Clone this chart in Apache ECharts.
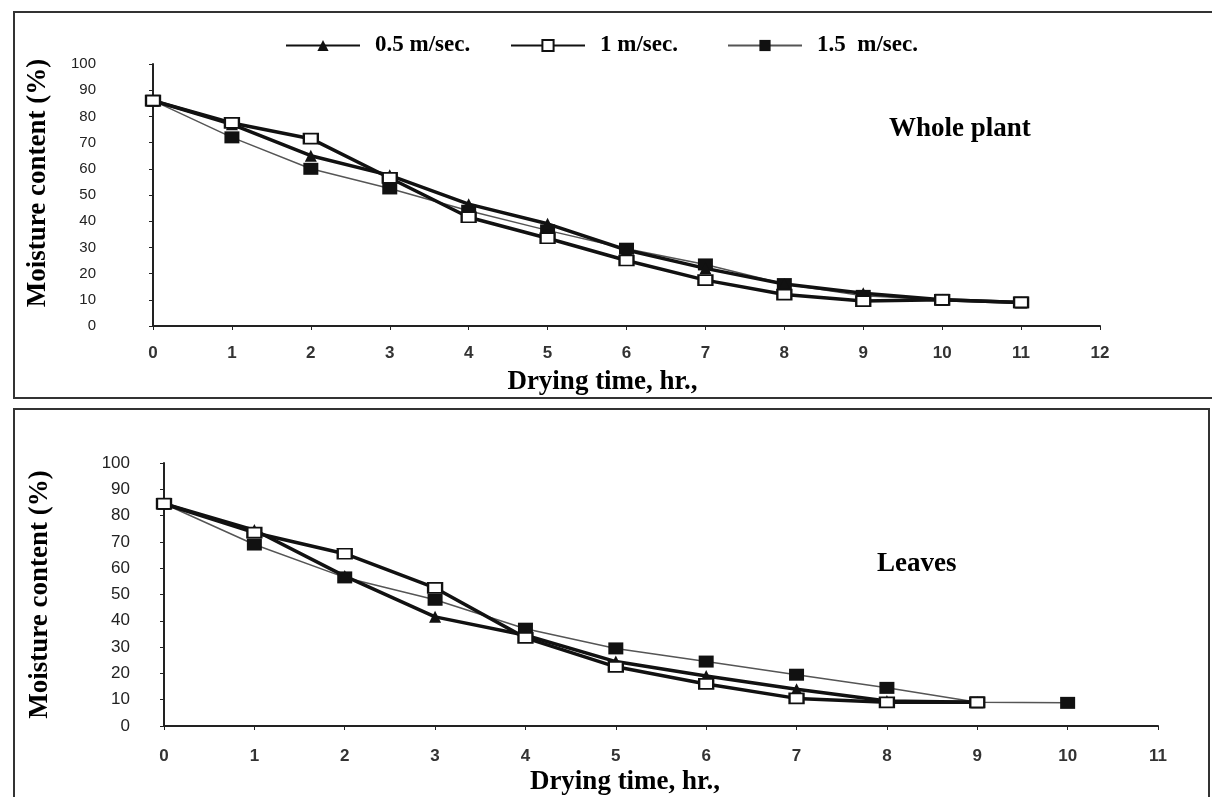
<!DOCTYPE html>
<html>
<head>
<meta charset="utf-8">
<title>Drying curves</title>
<script src="https://cdn.jsdelivr.net/npm/echarts@6/dist/echarts.min.js"></script>
<style>
  html, body { margin: 0; padding: 0; background: #fff; }
  #chart { width: 1212px; height: 797px; }
</style>
</head>
<body>
<div id="chart"></div>
<script>
// 数据
var speeds = ["0.5 m/sec.", "1 m/sec.", "1.5  m/sec."];
var yTicks = [0, 10, 20, 30, 40, 50, 60, 70, 80, 90, 100];

// whole plant, hours 0..11
var plantHours = [0, 1, 2, 3, 4, 5, 6, 7, 8, 9, 10, 11];
var plant05 = [86, 77, 65, 57.5, 46.5, 39, 29, 22, 16, 12.5, 10, 9];
var plant10 = [86, 77.5, 71.5, 56.5, 41.5, 33.5, 25, 17.5, 12, 9.5, 10, 9];
var plant15 = [86, 72, 60, 52.5, 44, 36.5, 29.5, 23.5, 16, 11.5, 10, 9];

// leaves, hours 0..10
var leafHours = [0, 1, 2, 3, 4, 5, 6, 7, 8, 9, 10];
var leaf05 = [84.5, 74.5, 57, 41.5, 34.5, 24.5, 19, 14, 9.5, 9];
var leaf10 = [84.5, 73.5, 65.5, 52.5, 33.5, 22.5, 16, 10.5, 9, 9];
var leaf15 = [84.5, 69, 56.5, 48, 37, 29.5, 24.5, 19.5, 14.5, 9, 8.8];

function pairs(hours, vals) {
  return vals.map(function (v, i) { return [hours[i], v]; });
}

var chart = echarts.init(document.getElementById("chart"));

var serif = "Liberation Serif";
var sans = "Liberation Sans";

// look of each speed
var looks = [
  { line: { color: "#111", width: 3.5 }, symbol: "triangle", size: 12, item: { color: "#111" } },
  { line: { color: "#111", width: 3.5 }, symbol: "rect", size: [14, 10], item: { color: "#fff", borderColor: "#111", borderWidth: 2 } },
  { line: { color: "#555", width: 1.5 }, symbol: "rect", size: [15, 12], item: { color: "#111" } }
];

function makeSeries(idx, data, gridIdx) {
  var lk = looks[idx];
  return {
    name: speeds[idx],
    type: "line",
    xAxisIndex: gridIdx,
    yAxisIndex: gridIdx,
    data: data,
    symbol: lk.symbol,
    symbolSize: lk.size,
    showAllSymbol: true,
    lineStyle: lk.line,
    itemStyle: lk.item,
    z: idx === 1 ? 4 : 3
  };
}

function xAxis(gridIdx, max, shift, labelSize, labelMargin) {
  return {
    gridIndex: gridIdx,
    type: "value",
    min: 0,
    max: max,
    interval: 1,
    name: "Drying time, hr.,",
    nameLocation: "middle",
    nameGap: 43,
    nameTextStyle: { fontFamily: serif, fontWeight: "bold", fontSize: 27, color: "#000", padding: [0, shift * 2, 0, 0] },
    axisLine: { lineStyle: { color: "#222", width: 2 } },
    axisTick: { show: true, length: 4, lineStyle: { color: "#222" } },
    axisLabel: { fontFamily: sans, fontWeight: "bold", fontSize: labelSize, color: "#333", margin: labelMargin },
    splitLine: { show: false }
  };
}

function yAxis(gridIdx, gap, margin, labelSize, up) {
  return {
    gridIndex: gridIdx,
    type: "value",
    min: 0,
    max: 100,
    interval: 10,
    name: "Moisture content (%)",
    nameLocation: "middle",
    nameGap: gap,
    nameRotate: 90,
    nameTextStyle: { fontFamily: serif, fontWeight: "bold", fontSize: 27, color: "#000", padding: [0, 0, 0, up * 2] },
    axisLine: { show: true, lineStyle: { color: "#222", width: 2 } },
    axisTick: { show: true, length: 4, lineStyle: { color: "#222" } },
    axisLabel: {
      fontFamily: sans, fontSize: labelSize, color: "#222", margin: margin,
      formatter: function (v) { return yTicks.indexOf(v) >= 0 ? String(v) : ""; }
    },
    splitLine: { show: false }
  };
}

function legendItem(idx, left) {
  return {
    data: [speeds[idx]],
    left: left,
    top: 34,
    padding: 0,
    itemWidth: 74,
    itemHeight: 14,
    selectedMode: false,
    textStyle: { fontFamily: serif, fontWeight: "bold", fontSize: 23, color: "#000", padding: [0, 0, 0, 10] }
  };
}

var option = {
  backgroundColor: "#fff",
  animation: false,
  legend: [legendItem(0, 285), legendItem(1, 510), legendItem(2, 727)],
  grid: [
    { left: 153, right: 112, top: 64, height: 262 },
    { left: 164, right: 54, top: 463, height: 263 }
  ],
  xAxis: [xAxis(0, 12, 24, 17, 19), xAxis(1, 11, 36, 17, 22)],
  yAxis: [yAxis(0, 101, 57, 15, 12), yAxis(1, 110, 34, 17, 0)],
  series: [
    makeSeries(2, pairs(plantHours, plant15), 0),
    makeSeries(0, pairs(plantHours, plant05), 0),
    makeSeries(1, pairs(plantHours, plant10), 0),
    makeSeries(2, pairs(leafHours, leaf15), 1),
    makeSeries(0, pairs(leafHours, leaf05), 1),
    makeSeries(1, pairs(leafHours, leaf10), 1)
  ],
  graphic: [
    // panel frames
    { type: "rect", shape: { x: 14, y: 12, width: 1220, height: 386 }, style: { fill: null, stroke: "#333", lineWidth: 2 }, silent: true },
    { type: "rect", shape: { x: 14, y: 409, width: 1195, height: 420 }, style: { fill: null, stroke: "#333", lineWidth: 2 }, silent: true },
    { type: "text", left: 889, top: 116, style: { text: "Whole plant", font: "bold 27px 'Liberation Serif'", fill: "#000" } },
    { type: "text", left: 877, top: 551, style: { text: "Leaves", font: "bold 27px 'Liberation Serif'", fill: "#000" } }
  ]
};

chart.setOption(option);
</script>
</body>
</html>
